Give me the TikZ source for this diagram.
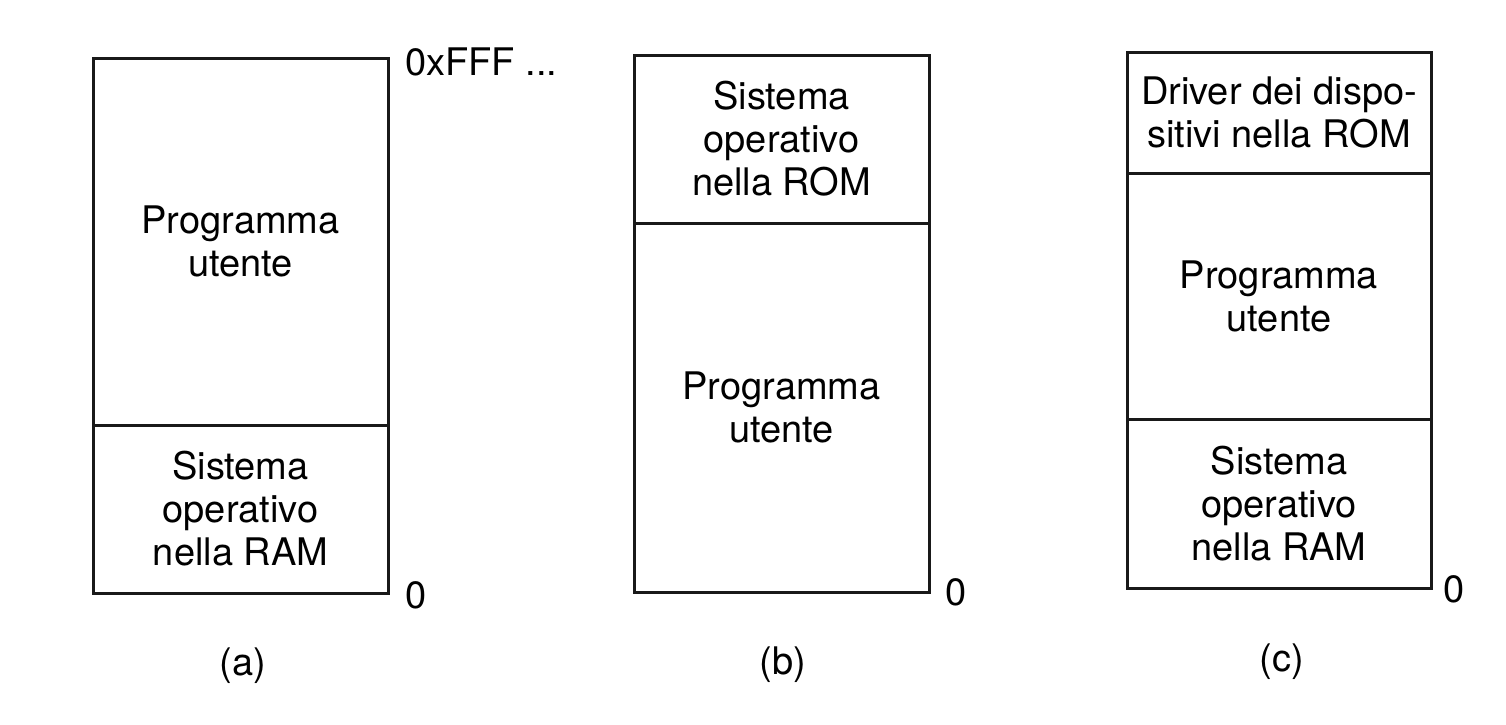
\documentclass[tikz,border=0pt]{standalone}
\usepackage{fontspec}
\setmainfont{TeX Gyre Heros}
\usetikzlibrary{fit}
\newcommand{\regfont}{\fontsize{19}{21.5}\selectfont}
\tikzset{
  region/.style={draw=black!90, line width=1.5pt, inner sep=0pt},
  regtext/.style={align=center, font=\regfont, inner sep=0pt},
  addr/.style={font=\regfont, inner sep=0pt},
  caption/.style={font=\regfont, inner sep=0pt, anchor=base}
}
\begin{document}
\begin{tikzpicture}[x=0.5pt, y=-0.5pt]
\useasboundingbox (0,0) rectangle (1506,724);
% (a)
\node[region, fit={(93,58) (388,425)}] (aUser) {};
\node[region, fit={(93,425) (388,593)}] (aOS) {};
\node[regtext] at (aUser.center) {Programma\\utente};
\node[regtext] at (aOS.center) {Sistema\\operativo\\nella RAM};
\node[addr, anchor=base west] (aTop) at (405,75) {0xFFF ...};
\node[addr, anchor=base] (aZero) at (416,608) {0};
\node[caption] (capA) at (243,675) {(a)};
% (b)
\node[region, fit={(634,55) (929,223)}] (bOS) {};
\node[region, fit={(634,223) (929,592)}] (bUser) {};
\node[regtext] at (bOS.center) {Sistema\\operativo\\nella ROM};
\node[regtext] at (bUser.center) {Programma\\utente};
\node[addr, anchor=base] (bZero) at (956,605) {0};
\node[caption] (capB) at (783,674) {(b)};
% (c)
\node[region, fit={(1127,52) (1431,173)}] (cDrv) {};
\node[region, fit={(1127,173) (1431,419)}] (cUser) {};
\node[region, fit={(1127,419) (1431,588)}] (cOS) {};
\node[regtext] at (cDrv.center) {Driver dei dispo-\\sitivi nella ROM};
\node[regtext] at (cUser.center) {Programma\\utente};
\node[regtext] at (cOS.center) {Sistema\\operativo\\nella RAM};
\node[addr, anchor=base] (cZero) at (1454,602) {0};
\node[caption] (capC) at (1282,671) {(c)};
\end{tikzpicture}
\end{document}
